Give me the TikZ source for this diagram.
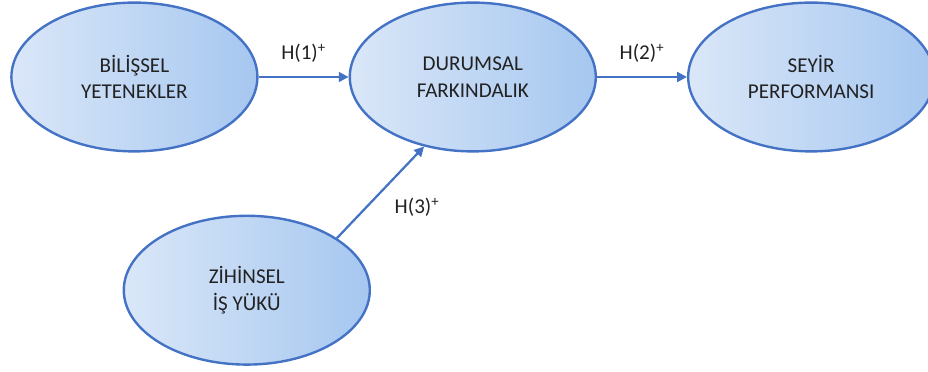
\documentclass[tikz,border=0pt]{standalone}
\usepackage{fontspec}
\setmainfont{Carlito}
\usetikzlibrary{arrows.meta,positioning,shapes.geometric}
\definecolor{Edge}{HTML}{4472C4}
\definecolor{FillLight}{HTML}{DAE7F8}
\definecolor{FillDark}{HTML}{A6C7F0}
\definecolor{Ink}{HTML}{222222}

\begin{document}
\begin{tikzpicture}[
          construct/.style={ellipse,draw=Edge,line width=1.7pt,
            left color=FillLight,right color=FillDark,
            minimum width=6.15cm,minimum height=3.72cm,
            align=center,font=\fontsize{15}{19}\selectfont,text=Ink},
          path/.style={draw=Edge,line width=1.6pt,-{Triangle[length=7pt,width=7pt]}},
          hyp/.style={font=\fontsize{15}{19}\selectfont,text=Ink}]
        \useasboundingbox (0,0) rectangle (23.2,9.3);
        \node[construct] (bil) at (3.36,7.375) {BİLİŞSEL\\YETENEKLER};
        \node[construct,right=2.25cm of bil] (dur) {DURUMSAL\\FARKINDALIK};
        \node[construct,right=2.25cm of dur] (sey) {SEYİR\\PERFORMANSI};
        \node[construct,below=1.55cm of bil,xshift=2.81cm] (zih) {ZİHİNSEL\\İŞ YÜKÜ};
        % hypotheses
        \draw[path] (bil) -- node[hyp,above=6pt] {H(1)\textsuperscript{+}} (dur);
        \draw[path] (dur) -- node[hyp,above=6pt] {H(2)\textsuperscript{+}} (sey);
        \draw[path] (zih.30) -- node[hyp,below right=0pt and 6pt] {H(3)\textsuperscript{+}} (dur.235);
      \end{tikzpicture}
\end{document}
